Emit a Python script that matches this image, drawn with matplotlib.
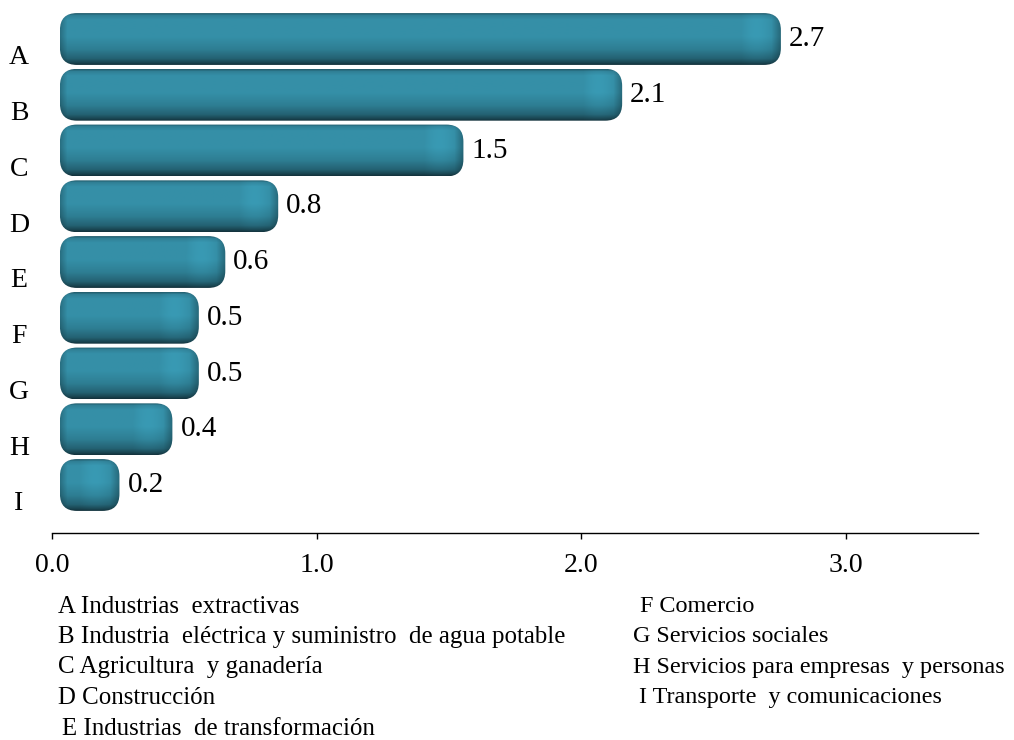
import numpy as np
import matplotlib
matplotlib.use("Agg")
import matplotlib.pyplot as plt
from matplotlib.patches import FancyBboxPatch
import matplotlib.transforms as mtransforms

plt.rcParams['font.family'] = ['Liberation Serif', 'DejaVu Serif']

letters = ['A', 'B', 'C', 'D', 'E', 'F', 'G', 'H', 'I']
values = [2.7, 2.1, 1.5, 0.8, 0.6, 0.5, 0.5, 0.4, 0.2]
value_labels = ['2.7', '2.1', '1.5', '0.8', '0.6', '0.5', '0.5', '0.4', '0.2']
legend_left = ['A Industrias  extractivas',
               'B Industria  eléctrica y suministro  de agua potable',
               'C Agricultura  y ganadería',
               'D Construcción',
               'E Industrias  de transformación']
legend_right = ['F Comercio',
                'G Servicios sociales',
                'H Servicios para empresas  y personas',
                'I Transporte  y comunicaciones']
xticks = [0.0, 1.0, 2.0, 3.0]
xtick_labels = ['0.0', '1.0', '2.0', '3.0']

W, H = 1014, 740
fig = plt.figure(figsize=(W / 100, H / 100), dpi=100)
ax_l, ax_r, ax_top, ax_bot = 52, 978, 5, 533
ax = fig.add_axes([ax_l / W, (H - ax_bot) / H, (ax_r - ax_l) / W, (ax_bot - ax_top) / H])
ymax, ymin = 8.861, -0.61
ax.set_xlim(0, 3.5)
ax.set_ylim(ymax, ymin)

px_x = (ax_r - ax_l) / 3.5
px_y = (ax_bot - ax_top) / (ymax - ymin)

bar_h = 0.93
x0 = 0.03      # bar starts a little right of zero
cap = 0.055    # rounded end sticks out past the value
r_px = 17

# vertical shading profile (top -> bottom)
stops_t = [0.0, 0.04, 0.12, 0.45, 0.7, 0.88, 0.96, 1.0]
stops_c = np.array([[36, 96, 112], [48, 128, 150], [53, 143, 167], [53, 144, 168],
                    [46, 126, 147], [36, 98, 115], [26, 70, 82], [20, 52, 62]]) / 255.0

for i, (v, lab) in enumerate(zip(values, value_labels)):
    x1 = v + cap
    wpx = int((x1 - x0) * px_x)
    hpx = int(bar_h * px_y)
    t = np.linspace(0, 1, hpx)
    col = np.stack([np.interp(t, stops_t, stops_c[:, k]) for k in range(3)], axis=1)
    xs = np.arange(wpx)
    d = wpx - xs
    hf = np.ones(wpx)
    hf = np.where(xs < 7, 0.78 + 0.22 * xs / 7, hf)
    hf = np.where((d < 40) & (d >= 10), 1.0 + 0.07 * np.sin(np.pi * (40 - d) / 30), hf)
    hf = np.where(d < 10, 0.7 + 0.3 * d / 10, hf)
    img = np.clip(col[:, None, :] * hf[None, :, None], 0, 1)
    yc = i
    patch = FancyBboxPatch((x0, yc - bar_h / 2), x1 - x0, bar_h,
                           boxstyle="round,pad=0,rounding_size=%f" % (r_px / px_x),
                           mutation_aspect=(px_x / px_y),
                           facecolor='none', edgecolor='none')
    ax.add_patch(patch)
    im = ax.imshow(img, extent=(x0, x1, yc + bar_h / 2, yc - bar_h / 2),
                   aspect='auto', interpolation='bilinear', zorder=2)
    im.set_clip_path(patch)
    off = mtransforms.offset_copy(ax.transData, fig=fig, x=8, y=0, units='dots')
    ax.text(x1, yc, lab, transform=off, ha='left', va='center', fontsize=21)

ax.set_xlim(0, 3.5)
ax.set_ylim(ymax, ymin)

# category letters, sitting a bit below each bar centre
blend = mtransforms.blended_transform_factory(ax.transAxes, ax.transData)
for i, let in enumerate(letters):
    ax.text((19 - ax_l) / (ax_r - ax_l), i + 0.34, let, transform=blend,
            ha='center', va='center', fontsize=20)

ax.set_yticks([])
ax.set_xticks(xticks)
ax.set_xticklabels(xtick_labels, fontsize=20)
ax.tick_params(axis='x', direction='out', length=4.5, width=1, pad=10)
for s in ['top', 'right', 'left']:
    ax.spines[s].set_visible(False)
ax.spines['bottom'].set_linewidth(1)

rows = [607, 637, 667, 698, 729]
for k, txt in enumerate(legend_left):
    xx = 62 if k == 4 else 58
    fig.text(xx / W, 1 - rows[k] / H, txt, ha='left', va='center', fontsize=17.9)
right_x = [640, 633, 633, 639]
for k, txt in enumerate(legend_right):
    fig.text(right_x[k] / W, 1 - rows[k] / H, txt, ha='left', va='center', fontsize=17.4)

fig.savefig('out.png', dpi=100)
